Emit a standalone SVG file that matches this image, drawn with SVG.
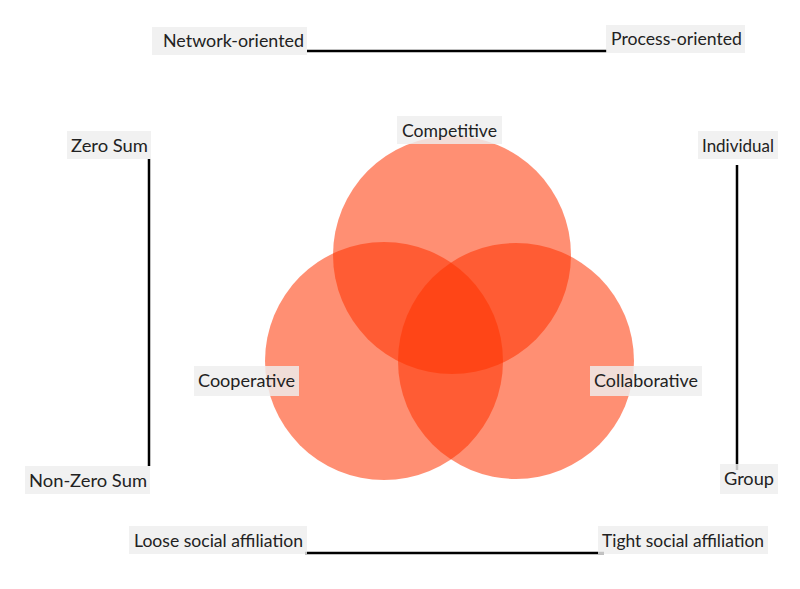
<svg xmlns="http://www.w3.org/2000/svg" width="800" height="589" viewBox="0 0 800 589">
<style>
.c{fill:#ff3300;fill-opacity:0.55}
.b{fill:#eeeeee;fill-opacity:0.82}
.t{font-family:Lato,"Open Sans","Liberation Sans",sans-serif;font-size:18px;fill:#222}
.l{stroke:#000;stroke-width:2.5;fill:none}
</style>
<rect width="800" height="589" fill="#fff"/>
<g id="circles">
<circle class="c" cx="452" cy="255" r="119"/>
<circle class="c" cx="384" cy="361" r="119"/>
<circle class="c" cx="516" cy="361" r="118"/>
</g>
<g id="connectors">
<line class="l" x1="307" y1="51" x2="607" y2="51"/>
<line class="l" x1="149" y1="159" x2="149" y2="466"/>
<line class="l" x1="737" y1="165" x2="737" y2="470"/>
<line class="l" x1="305" y1="553" x2="604" y2="553"/>
</g>
<g id="network"><rect class="b" x="152" y="27" width="155" height="28"/><text class="t" x="163" y="47" textLength="141" lengthAdjust="spacingAndGlyphs">Network-oriented</text></g>
<g id="process"><rect class="b" x="606" y="25" width="139" height="28"/><text class="t" x="611" y="45" textLength="131" lengthAdjust="spacingAndGlyphs">Process-oriented</text></g>
<g id="zerosum"><rect class="b" x="67" y="131" width="84" height="28"/><text class="t" x="71" y="152" textLength="77" lengthAdjust="spacingAndGlyphs">Zero Sum</text></g>
<g id="nonzerosum"><rect class="b" x="25" y="466" width="125" height="28"/><text class="t" x="29" y="487" textLength="118" lengthAdjust="spacingAndGlyphs">Non-Zero Sum</text></g>
<g id="individual"><rect class="b" x="698" y="131" width="80" height="28"/><text class="t" x="702" y="152" textLength="72" lengthAdjust="spacingAndGlyphs">Individual</text></g>
<g id="group"><rect class="b" x="720" y="464" width="58" height="30"/><text class="t" x="724" y="485" textLength="50" lengthAdjust="spacingAndGlyphs">Group</text></g>
<g id="loose"><rect class="b" x="129" y="526" width="178" height="28"/><text class="t" x="134" y="547" textLength="169" lengthAdjust="spacingAndGlyphs">Loose social affiliation</text></g>
<g id="tight"><rect class="b" x="598" y="526" width="170" height="28"/><text class="t" x="602" y="547" textLength="162" lengthAdjust="spacingAndGlyphs">Tight social affiliation</text></g>
<g id="cooperative"><rect class="b" x="194" y="366" width="105" height="30"/><text class="t" x="198" y="387" textLength="97" lengthAdjust="spacingAndGlyphs">Cooperative</text></g>
<g id="collaborative"><rect class="b" x="590" y="366" width="112" height="30"/><text class="t" x="594" y="387" textLength="104" lengthAdjust="spacingAndGlyphs">Collaborative</text></g>
<g id="competitive"><rect class="b" x="397" y="116" width="105" height="28"/><text class="t" x="402" y="137" textLength="95" lengthAdjust="spacingAndGlyphs">Competitive</text></g>
</svg>
